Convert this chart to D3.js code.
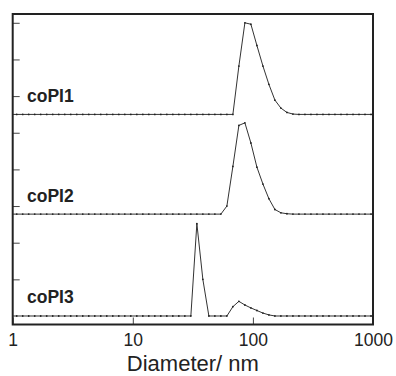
<!DOCTYPE html>
<html>
<head>
<meta charset="utf-8">
<script src="https://cdn.jsdelivr.net/npm/d3@7"></script>
<style>
	body { margin: 0; background: #fff; }
	svg { display: block; font-family: "Liberation Sans", Arial, Helvetica, sans-serif; }
</style>
</head>
<body>
<svg id="chart" width="396" height="376"></svg>
<script>
// size bins (nm), log spaced
var diameters = [0.962, 1.080, 1.212, 1.359, 1.525, 1.711, 1.920, 2.154, 2.417, 2.712,
	3.043, 3.415, 3.831, 4.299, 4.823, 5.412, 6.072, 6.813, 7.644, 8.577,
	9.624, 10.80, 12.12, 13.59, 15.25, 17.11, 19.20, 21.54, 24.17, 27.12,
	30.43, 34.15, 38.31, 42.99, 48.23, 54.12, 60.72, 68.13, 76.44, 85.77,
	96.24, 108.0, 121.2, 135.9, 152.5, 171.1, 192.0, 215.4, 241.7, 271.2,
	304.3, 341.5, 383.1, 429.9, 482.3, 541.2, 607.2, 681.3, 764.4, 857.7,
	962.4, 1080];

var names = [ "coPI1", "coPI2", "coPI3" ];
var offsets = [ 27.5, 13.9, 0 ];

var coPI1 = [0, 0, 0, 0, 0, 0, 0, 0, 0, 0,
	0, 0, 0, 0, 0, 0, 0, 0, 0, 0,
	0, 0, 0, 0, 0, 0, 0, 0, 0, 0,
	0, 0, 0, 0, 0, 0, 0, 0, 6.6, 12.5,
	12.3, 9.4, 6.6, 4.1, 1.95, 0.86, 0.27, 0.05, 0, 0,
	0, 0, 0, 0, 0, 0, 0, 0, 0, 0,
	0, 0];
var coPI2 = [0, 0, 0, 0, 0, 0, 0, 0, 0, 0,
	0, 0, 0, 0, 0, 0, 0, 0, 0, 0,
	0, 0, 0, 0, 0, 0, 0, 0, 0, 0,
	0, 0, 0, 0, 0, 0, 1.1, 6.5, 12.1, 12.45,
	9.7, 6.4, 4.1, 2.1, 0.63, 0.18, 0.05, 0, 0, 0,
	0, 0, 0, 0, 0, 0, 0, 0, 0, 0,
	0, 0];
var coPI3 = [0, 0, 0, 0, 0, 0, 0, 0, 0, 0,
	0, 0, 0, 0, 0, 0, 0, 0, 0, 0,
	0, 0, 0, 0, 0, 0, 0, 0, 0, 0,
	0, 12.6, 5.0, 0, 0, 0, 0, 1.27, 2.0, 1.5,
	1.1, 0.75, 0.4, 0.15, 0, 0, 0, 0, 0, 0,
	0, 0, 0, 0, 0, 0, 0, 0, 0, 0,
	0, 0];
var seriesValues = [ coPI1, coPI2, coPI3 ];

var xTicks = [ 1, 10, 100, 1000 ];
var yTicks = [ 5, 10, 15, 20, 25, 30, 35, 40 ];

var box = { left: 12.7, right: 373, top: 14, bottom: 324.5 };
var svg = d3.select("#chart");

var x = d3.scaleLog().domain([ 1, 1000 ]).range([ box.left, box.right ]);
var y = d3.scaleLinear().domain([ -1.16, 41.2 ]).range([ box.bottom, box.top ]);

svg.append("clipPath").attr("id", "plotClip")//
.append("rect").attr("x", box.left).attr("y", box.top)//
.attr("width", box.right - box.left).attr("height", box.bottom - box.top);

// x axis, ticks inward
var xAxis = svg.append("g").attr("transform", "translate(0," + box.bottom + ")")//
.call(d3.axisBottom(x).tickValues(xTicks).tickFormat(d3.format("d"))//
.tickSizeInner(-7).tickSizeOuter(0).tickPadding(9));
xAxis.attr("font-family", null).attr("font-size", null);
xAxis.select(".domain").remove();
xAxis.selectAll("line").attr("stroke", "#444").attr("stroke-width", 1);
xAxis.selectAll("text").attr("font-size", 17.5).attr("fill", "#222");

// y axis, ticks only
var yAxis = svg.append("g").attr("transform", "translate(" + box.left + ",0)")//
.call(d3.axisLeft(y).tickValues(yTicks).tickFormat("").tickSizeInner(-7).tickSizeOuter(0));
yAxis.select(".domain").remove();
yAxis.selectAll("line").attr("stroke", "#444").attr("stroke-width", 1);

var plot = svg.append("g").attr("clip-path", "url(#plotClip)");

names.forEach(function(name, s) {
	var pts = diameters.map(function(d, i) {
		return [ d, seriesValues[s][i] + offsets[s] ];
	});
	var line = d3.line().x(function(p) {
		return x(p[0]);
	}).y(function(p) {
		return y(p[1]);
	});
	plot.append("path").attr("d", line(pts))//
	.attr("fill", "none").attr("stroke", "#333").attr("stroke-width", 1);
	plot.selectAll(".pt" + s).data(pts).enter().append("circle")//
	.attr("class", "pt" + s)//
	.attr("cx", function(p) {
		return x(p[0]);
	}).attr("cy", function(p) {
		return y(p[1]);
	}).attr("r", 0.9).attr("fill", "#222");

	svg.append("text").attr("x", 27).attr("y", y(offsets[s]) - 12.5)//
	.attr("font-size", 17.5).attr("font-weight", "bold").attr("fill", "#222")//
	.text(name);
});

// frame
svg.append("rect").attr("x", box.left).attr("y", box.top)//
.attr("width", box.right - box.left).attr("height", box.bottom - box.top)//
.attr("fill", "none").attr("stroke", "#222").attr("stroke-width", 2);

svg.append("text").attr("x", (box.left + box.right) / 2).attr("y", 370.5)//
.attr("text-anchor", "middle").attr("font-size", 22).attr("fill", "#222")//
.text("Diameter/ nm");
</script>
</body>
</html>
